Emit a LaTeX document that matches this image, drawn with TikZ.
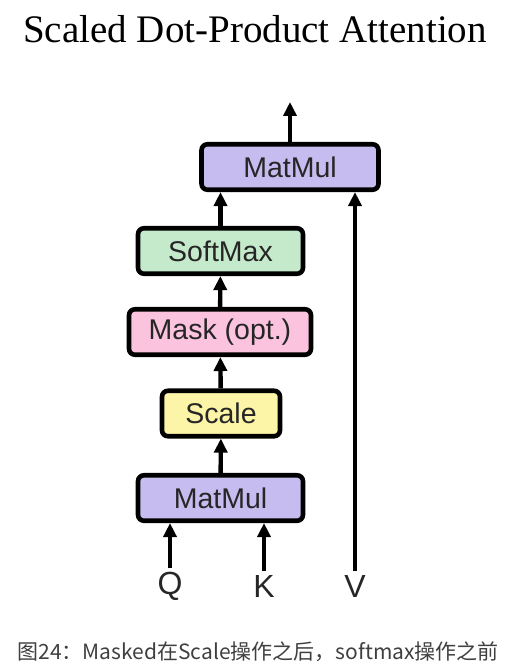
\documentclass[tikz,border=0pt]{standalone}
\usepackage{fontspec}
\setmainfont{Liberation Serif}
\setsansfont{Liberation Sans}
\newfontfamily\cjk{Noto Sans CJK SC}
\usepackage{tikz}
\usetikzlibrary{arrows.meta,positioning}
\definecolor{ink}{HTML}{262626}
\definecolor{capgray}{HTML}{3F3F3F}
\definecolor{matmulfill}{HTML}{C7BCEF}
\definecolor{softfill}{HTML}{C4EACB}
\definecolor{maskfill}{HTML}{FCC3DF}
\definecolor{scalefill}{HTML}{FCF5A7}

\begin{document}
\begin{tikzpicture}[x=1pt,y=-1pt,
  opbox/.style={draw=black,line width=4.6pt,rounded corners=6pt,inner sep=0pt,
    minimum height=45.5pt,text=ink,font=\sffamily\fontsize{28.5}{30}\selectfont},
  inlabel/.style={text=ink,font=\sffamily\fontsize{32}{34}\selectfont},
  flow/.style={-{Triangle[length=14pt,width=13pt]},line width=4.4pt}]
  \useasboundingbox (0,0) rectangle (520,671);

  % Title.
  \node[font=\fontsize{39}{42}\selectfont,anchor=base] (title) at (255,43)
    {Scaled Dot-Product Attention};

  % Operation boxes, from the top down.
  \node[opbox,fill=matmulfill,minimum width=177pt] (mmtop) at (290,167) {MatMul};
  \node[opbox,fill=softfill,minimum width=165pt] (softmax) at (220.5,251) {SoftMax};
  \node[opbox,fill=maskfill,minimum width=182pt] (mask) at (220,332) {Mask (opt.)};
  \node[opbox,fill=scalefill,minimum width=118pt] (scale) at (221,413.5) {Scale};
  \node[opbox,fill=matmulfill,minimum width=165pt] (mmbot) at (220.5,498) {MatMul};

  % Inputs.
  \node[inlabel] (q) at (170,586) {Q};
  \node[inlabel] (k) at (264,586) {K};
  \node[inlabel] (v) at (355,586) {V};
  \coordinate (out) at (290,102);

  \draw[flow] (q.north) -- (mmbot.south -| q.north);
  \draw[flow] (k.north) -- (mmbot.south -| k.north);
  \draw[flow] (v.north) -- (mmtop.south -| v.north);
  \draw[flow] (mmbot) -- (scale);
  \draw[flow] (scale) -- (mask);
  \draw[flow] (mask) -- (softmax);
  \draw[flow] (softmax.north) -- (mmtop.south -| softmax.north);
  \draw[flow] (mmtop) -- (out);

  % Caption.
  \node[anchor=west,text=capgray,font=\cjk\fontsize{21}{23}\selectfont] (caption) at (14,652)
    {图24：Masked在Scale操作之后，softmax操作之前};
\end{tikzpicture}
\end{document}
